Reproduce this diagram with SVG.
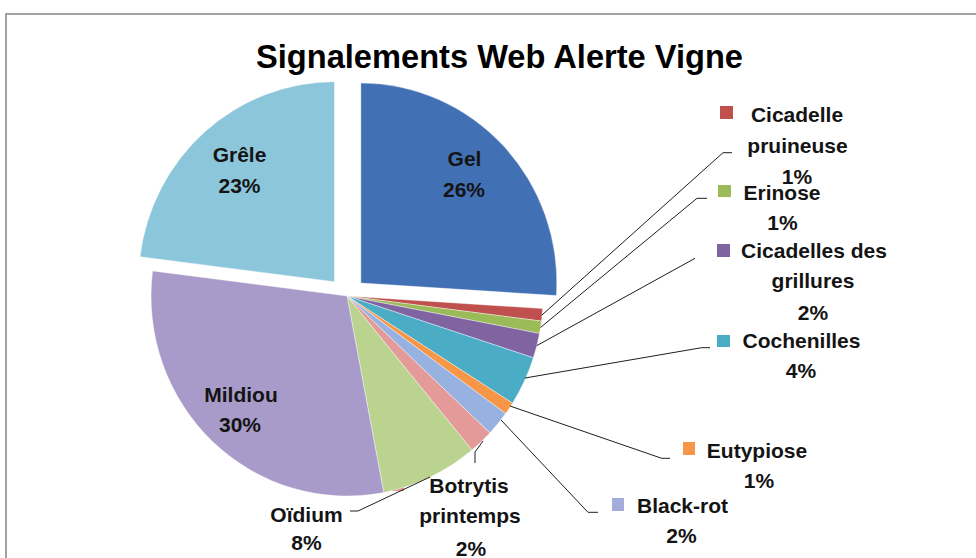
<svg xmlns="http://www.w3.org/2000/svg" width="976" height="558" viewBox="0 0 976 558">
  <style>
    .lbl { font-family: "Liberation Sans", Arial, sans-serif; font-weight: bold; font-size: 21px; fill: #141414; text-anchor: middle; }
    .ttl { font-family: "Liberation Sans", Arial, sans-serif; font-weight: bold; font-size: 33px; fill: #000; text-anchor: middle; }
    .lead { fill: none; stroke: #1e1e1e; stroke-width: 1; }
    .sl { stroke: #ffffff; stroke-width: 0.4; }
  </style>
  <rect x="0" y="0" width="976" height="558" fill="#ffffff"/>
  <rect x="6" y="14" width="1000" height="600" fill="#ffffff" stroke="#8a8a8a" stroke-width="1.6"/>
  <text class="ttl" x="499.5" y="68" textLength="487" lengthAdjust="spacingAndGlyphs">Signalements Web Alerte Vigne</text>

  <g id="gel">
    <path class="sl" fill="#4270B5" d="M360.85,283 L360.85,83 A196,200 0 0 1 556.45,295.56 Z"/>
    <text class="lbl" x="464.5" y="166">Gel</text>
    <text class="lbl" x="464" y="197">26%</text>
  </g>
  <g id="cicadelle-pruineuse">
    <path class="sl" fill="#C0504D" d="M347,296 L542.6,308.6 A196,200 0 0 1 541.5,321.1 Z"/>
    <rect x="720" y="106" width="13" height="13" fill="#C0504D"/>
    <text class="lbl" x="797" y="122">Cicadelle</text>
    <text class="lbl" x="797.5" y="153">pruineuse</text>
    <text class="lbl" x="797" y="184">1%</text>
  </g>
  <g id="erinose">
    <path class="sl" fill="#9BBB59" d="M347,296 L541.5,321.1 A196,200 0 0 1 539.5,333.5 Z"/>
    <rect x="718" y="185" width="13" height="12" fill="#9BBB59"/>
    <text class="lbl" x="782" y="200">Erinose</text>
    <text class="lbl" x="782.5" y="230">1%</text>
  </g>
  <g id="cicadelles-grillures">
    <path class="sl" fill="#8064A2" d="M347,296 L539.5,333.5 A196,200 0 0 1 533.4,357.8 Z"/>
    <rect x="717" y="244" width="13" height="13" fill="#8064A2"/>
    <text class="lbl" x="814" y="258">Cicadelles des</text>
    <text class="lbl" x="813" y="288">grillures</text>
    <text class="lbl" x="813" y="320">2%</text>
  </g>
  <g id="cochenilles">
    <path class="sl" fill="#4BACC6" d="M347,296 L533.4,357.8 A196,200 0 0 1 512.5,403.2 Z"/>
    <rect x="717" y="335" width="13" height="12" fill="#4BACC6"/>
    <text class="lbl" x="801.5" y="348">Cochenilles</text>
    <text class="lbl" x="801" y="378">4%</text>
  </g>
  <g id="eutypiose">
    <path class="sl" fill="#F79646" d="M347,296 L512.5,403.2 A196,200 0 0 1 505.6,413.6 Z"/>
    <rect x="683" y="442" width="12" height="13" fill="#F79646"/>
    <text class="lbl" x="757" y="458">Eutypiose</text>
    <text class="lbl" x="759" y="488">1%</text>
  </g>
  <g id="black-rot">
    <path class="sl" fill="#97B2E0" d="M347,296 L505.6,413.6 A196,200 0 0 1 489.9,432.9 Z"/>
    <rect x="612" y="498" width="12" height="13" fill="#A3ACDA"/>
    <text class="lbl" x="682.5" y="513">Black-rot</text>
    <text class="lbl" x="681.5" y="543">2%</text>
  </g>
  <g id="botrytis">
    <path class="sl" fill="#E39A98" d="M347,296 L489.9,432.9 A196,200 0 0 1 471.9,450.1 Z"/>
    <rect x="392" y="479" width="12" height="12" fill="#E39A98"/>
    <text class="lbl" x="469" y="493">Botrytis</text>
    <text class="lbl" x="470" y="523">printemps</text>
    <text class="lbl" x="471" y="556">2%</text>
  </g>
  <g id="oidium">
    <path class="sl" fill="#BAD48F" d="M347,296 L471.9,450.1 A196,200 0 0 1 383.7,492.5 Z"/>
    <text class="lbl" x="306.5" y="522">Oïdium</text>
    <text class="lbl" x="306.5" y="550">8%</text>
  </g>
  <g id="mildiou">
    <path class="sl" fill="#A89BC9" d="M347,296 L383.7,492.5 A196,200 0 0 1 152.6,270.9 Z"/>
    <text class="lbl" x="241" y="402">Mildiou</text>
    <text class="lbl" x="240" y="432">30%</text>
  </g>
  <g id="grele">
    <path class="sl" fill="#8CC6DB" d="M334.44,281.75 L139.99,256.68 A196,200 0 0 1 334.44,81.75 Z"/>
    <text class="lbl" x="239.5" y="162">Grêle</text>
    <text class="lbl" x="239.5" y="193">23%</text>
  </g>

  <g id="connectors">
    <path class="lead" d="M732,152.7 L723,152.7 L542,315"/>
    <path class="lead" d="M707,198.3 L697,198.3 L540.5,327.5"/>
    <path class="lead" d="M695,258.3 L536.8,345.6"/>
    <path class="lead" d="M710,347.7 L701.7,347.7 L525,378"/>
    <path class="lead" d="M670,458.3 L661.7,458.3 L510,406"/>
    <path class="lead" d="M598,512.3 L588,512.3 L501,420"/>
    <path class="lead" d="M483,441 L475,452 L475,463"/>
    <path class="lead" d="M350,511 L358,511 L430,477"/>
  </g>
</svg>
